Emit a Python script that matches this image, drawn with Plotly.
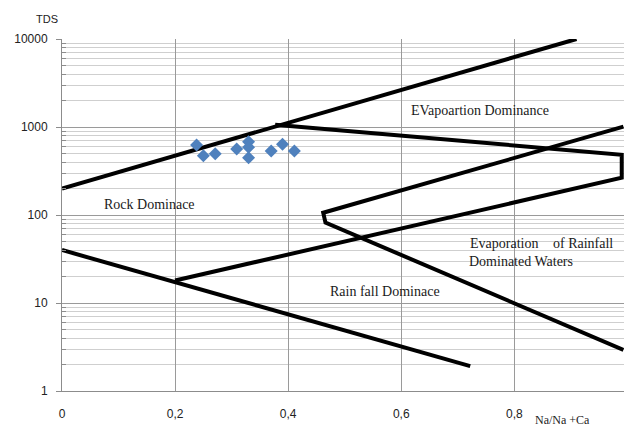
import plotly.graph_objects as go

# Sample points (Na/(Na+Ca), TDS)
sample_x = [0.238, 0.250, 0.271, 0.309, 0.330, 0.330, 0.330, 0.370, 0.390, 0.411]
sample_tds = [624, 472, 497, 562, 681, 588, 448, 534, 636, 534]

# Gibbs boundary lines
upper_x = [0.0, 0.91]
upper_y = [200, 10000]

evap_x = [0.377, 0.99, 0.99, 0.2]
evap_y = [1060, 484, 265, 18]

mid_x = [0.993, 0.462, 0.466, 0.993]
mid_y = [1008, 106, 82, 2.93]

lower_x = [0.0, 0.722]
lower_y = [40, 1.92]

x_ticks = [0, 0.2, 0.4, 0.6, 0.8]
x_ticktext = ["0", "0,2", "0,4", "0,6", "0,8"]
y_ticks = [1, 10, 100, 1000, 10000]
y_ticktext = ["1", "10", "100", "1000", "10000"]
y_minor = [m * 10 ** d for d in range(4) for m in range(2, 10)]

fig = go.Figure()
line_style = dict(color="black", width=4)
for xs, ys in [(upper_x, upper_y), (evap_x, evap_y), (mid_x, mid_y), (lower_x, lower_y)]:
    fig.add_trace(go.Scatter(x=xs, y=ys, mode="lines", line=line_style,
                             cliponaxis=False, showlegend=False, hoverinfo="skip"))

fig.add_trace(go.Scatter(x=sample_x, y=sample_tds, mode="markers",
                         marker=dict(symbol="diamond", size=10, color="#4F81BD"),
                         showlegend=False))

serif = dict(family="Liberation Serif", size=14, color="#1a1a1a")
labels = [
    ("EVapoartion Dominance", 0.614, 3.19),
    ("Rock Dominace", 0.0707, 2.125),
    ("Evaporation", 0.718, 1.68),
    ("of Rainfall", 0.865, 1.68),
    ("Dominated Waters", 0.716, 1.466),
    ("Rain fall Dominace", 0.470, 1.136),
]
for txt, xx, yy in labels:
    fig.add_annotation(text=txt, x=xx, y=yy, xref="x", yref="y", showarrow=False,
                       xanchor="left", yanchor="middle", font=serif)

fig.add_annotation(text="TDS", x=(47 - 62) / 562, y=(391 - 19) / 352,
                   xref="paper", yref="paper", showarrow=False,
                   xanchor="center", yanchor="middle",
                   font=dict(family="Liberation Sans", size=11, color="#222"))
fig.add_annotation(text="Na/Na +Ca", x=(533 - 62) / 562, y=(391 - 420) / 352,
                   xref="paper", yref="paper", showarrow=False, xanchor="left",
                   yanchor="middle", font=dict(family="Liberation Serif", size=12, color="#222"))

fig.update_layout(
    width=624, height=428,
    margin=dict(l=62, r=0, t=39, b=37),
    plot_bgcolor="white", paper_bgcolor="white",
    font=dict(family="Liberation Sans", size=12, color="#222"),
)
fig.update_xaxes(range=[0, 0.994], tickvals=x_ticks, ticktext=x_ticktext,
                 showgrid=True, gridcolor="#9a9a9a", gridwidth=1,
                 showline=True, linecolor="#8c8c8c", linewidth=1,
                 ticks="", zeroline=False, ticklabelstandoff=12)
fig.update_yaxes(type="log", range=[0, 4], tickvals=y_ticks, ticktext=y_ticktext,
                 showgrid=True, gridcolor="#9a9a9a", gridwidth=1,
                 showline=True, linecolor="#8c8c8c", linewidth=1,
                 ticks="outside", ticklen=5, tickcolor="#8c8c8c", ticklabelstandoff=6,
                 minor=dict(tickmode="array", tickvals=y_minor, showgrid=True,
                            gridcolor="#cfcfcf", ticks="inside", ticklen=4,
                            tickcolor="#8c8c8c"),
                 zeroline=False)

fig.write_html("out.html", config={"displayModeBar": False},
               post_script="document.body.style.margin='0';document.body.style.overflow='hidden';")
